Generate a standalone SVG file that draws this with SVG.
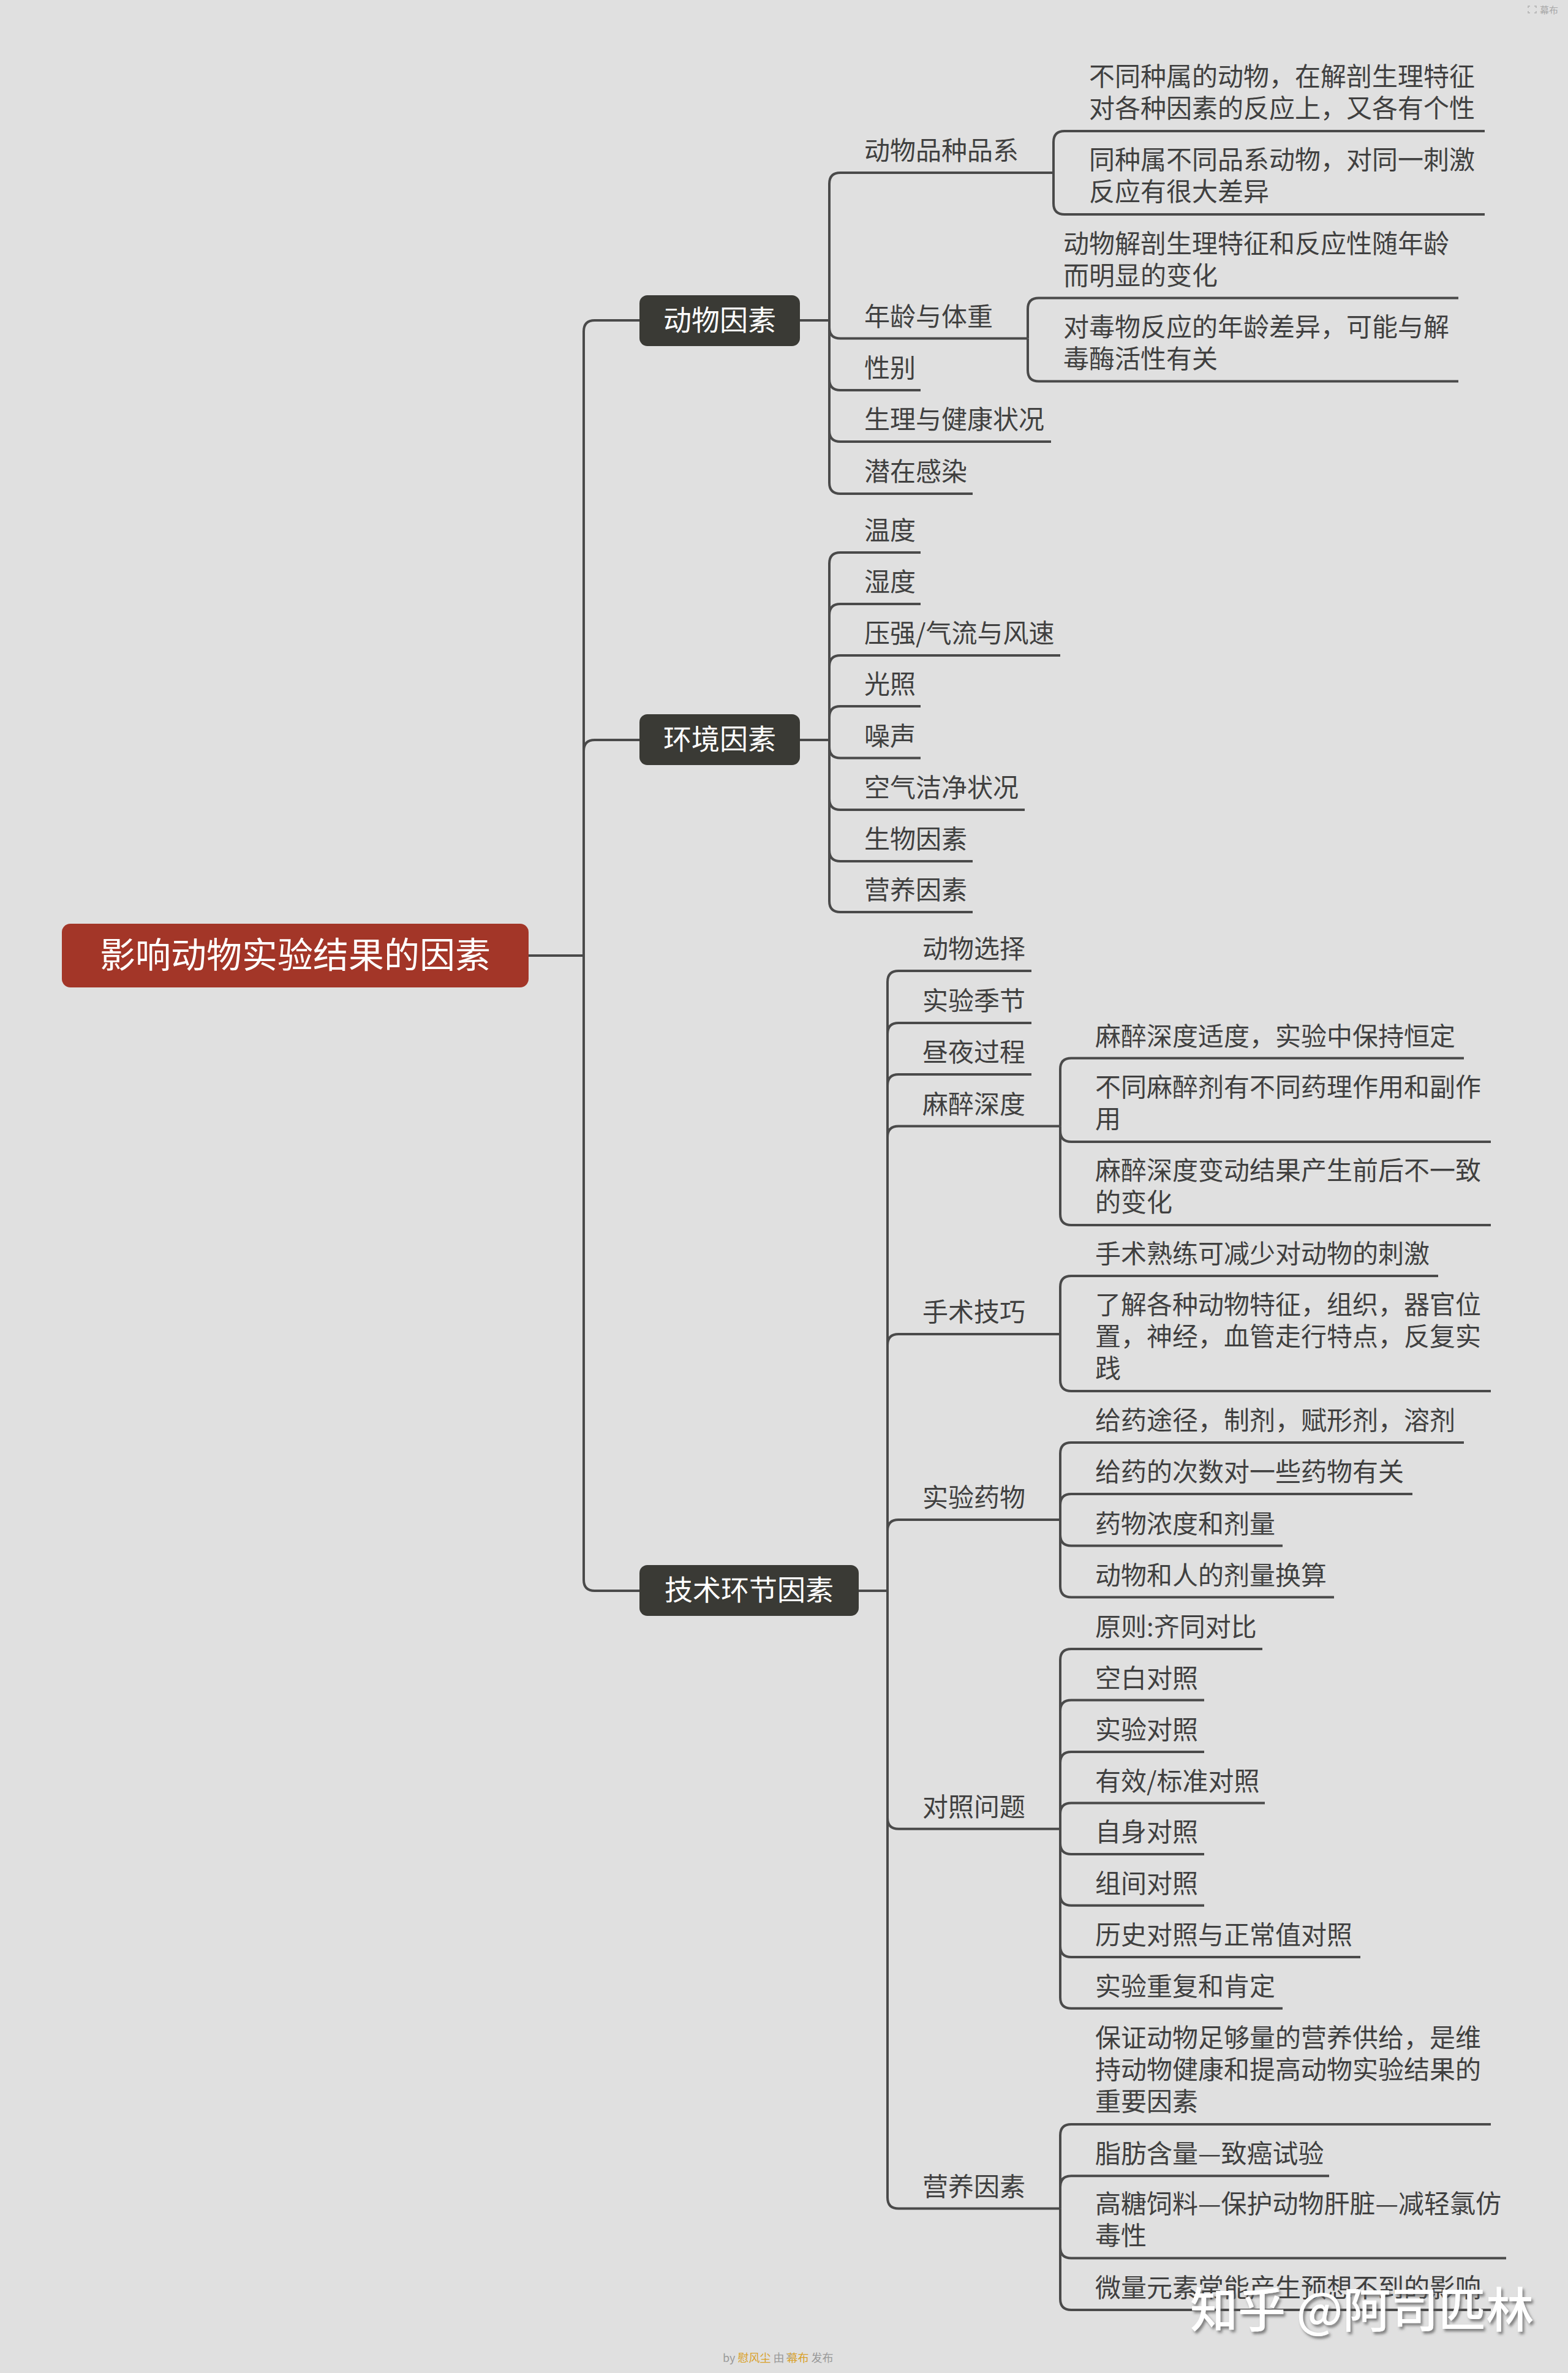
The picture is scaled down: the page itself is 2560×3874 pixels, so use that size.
<svg xmlns="http://www.w3.org/2000/svg" width="2560" height="3874" viewBox="0 0 2560 3874">
<style>
.bg{fill:#e0e0e0}
.c{fill:none;stroke:#4a4a4a;stroke-width:4;stroke-linecap:butt;stroke-linejoin:round}
.t{font-family:"Noto Sans CJK SC","Noto Sans",sans-serif;font-size:42px;fill:#404040}
.m{fill:#3a3a35}
.mt{font-family:"Noto Sans CJK SC","Noto Sans",sans-serif;font-size:46px;fill:#ffffff;text-anchor:middle}
.rt{font-family:"Noto Sans CJK SC","Noto Sans",sans-serif;font-size:58px;fill:#ffffff;text-anchor:middle}
.sm{font-family:"Noto Sans CJK SC","Noto Sans",sans-serif;font-size:18px;fill:#9a9a9a}
.or{fill:#d9a12a}
</style>
<defs>
<filter id="ds" x="-5%" y="-20%" width="110%" height="150%">
<feDropShadow dx="3" dy="4" stdDeviation="2" flood-color="#555" flood-opacity="0.7"/>
</filter>
</defs>
<rect class="bg" x="0" y="0" width="2560" height="3874"/>

<g id="connectors">
<path class="c" d="M862 1560 H953"/>
<path class="c" d="M953 1560 V541 Q953 523 971 523 H1044"/>
<path class="c" d="M953 1560 V1226 Q953 1208 971 1208 H1044"/>
<path class="c" d="M953 1560 V2579 Q953 2597 971 2597 H1044"/>

<path class="c" d="M1306 523 H1354"/>
<path class="c" d="M1354 523 V300 Q1354 282 1372 282 H1720"/>
<path class="c" d="M1354 523 V534.5 Q1354 552.5 1372 552.5 H1678"/>
<path class="c" d="M1354 523 V619 Q1354 637 1372 637 H1503"/>
<path class="c" d="M1354 523 V703 Q1354 721 1372 721 H1716"/>
<path class="c" d="M1354 523 V788 Q1354 806 1372 806 H1588"/>

<path class="c" d="M1720 282 V232 Q1720 214 1738 214 H2424"/>
<path class="c" d="M1720 282 V332 Q1720 350 1738 350 H2424"/>
<path class="c" d="M1678 552.5 V504.5 Q1678 486.5 1696 486.5 H2381"/>
<path class="c" d="M1678 552.5 V604.5 Q1678 622.5 1696 622.5 H2381"/>

<path class="c" d="M1306 1208 H1354"/>
<path class="c" d="M1354 1208 V920 Q1354 902 1372 902 H1503"/>
<path class="c" d="M1354 1208 V1004 Q1354 986 1372 986 H1503"/>
<path class="c" d="M1354 1208 V1088 Q1354 1070 1372 1070 H1731"/>
<path class="c" d="M1354 1208 V1171 Q1354 1153 1372 1153 H1503"/>
<path class="c" d="M1354 1208 V1219.5 Q1354 1237.5 1372 1237.5 H1503"/>
<path class="c" d="M1354 1208 V1304 Q1354 1322 1372 1322 H1673"/>
<path class="c" d="M1354 1208 V1388 Q1354 1406 1372 1406 H1588"/>
<path class="c" d="M1354 1208 V1471 Q1354 1489 1372 1489 H1588"/>

<path class="c" d="M1402 2597 H1449"/>
<path class="c" d="M1449 2597 V1603 Q1449 1585 1467 1585 H1684"/>
<path class="c" d="M1449 2597 V1688 Q1449 1670 1467 1670 H1684"/>
<path class="c" d="M1449 2597 V1772 Q1449 1754 1467 1754 H1684"/>
<path class="c" d="M1449 2597 V1856.5 Q1449 1838.5 1467 1838.5 H1731"/>
<path class="c" d="M1449 2597 V2196 Q1449 2178 1467 2178 H1731"/>
<path class="c" d="M1449 2597 V2499 Q1449 2481 1467 2481 H1731"/>
<path class="c" d="M1449 2597 V2967.7 Q1449 2985.7 1467 2985.7 H1731"/>
<path class="c" d="M1449 2597 V3587.5 Q1449 3605.5 1467 3605.5 H1731"/>

<path class="c" d="M1731 1838.5 V1745.5 Q1731 1727.5 1749 1727.5 H2390"/>
<path class="c" d="M1731 1838.5 V1846 Q1731 1864 1749 1864 H2434"/>
<path class="c" d="M1731 1838.5 V1982 Q1731 2000 1749 2000 H2434"/>

<path class="c" d="M1731 2178 V2101 Q1731 2083 1749 2083 H2348"/>
<path class="c" d="M1731 2178 V2253 Q1731 2271 1749 2271 H2434"/>

<path class="c" d="M1731 2481 V2373 Q1731 2355 1749 2355 H2390"/>
<path class="c" d="M1731 2481 V2457 Q1731 2439 1749 2439 H2306"/>
<path class="c" d="M1731 2481 V2505.5 Q1731 2523.5 1749 2523.5 H2094"/>
<path class="c" d="M1731 2481 V2589.6 Q1731 2607.6 1749 2607.6 H2178"/>

<path class="c" d="M1731 2985.7 V2710 Q1731 2692 1749 2692 H2061"/>
<path class="c" d="M1731 2985.7 V2793.5 Q1731 2775.5 1749 2775.5 H1966"/>
<path class="c" d="M1731 2985.7 V2878 Q1731 2860 1749 2860 H1966"/>
<path class="c" d="M1731 2985.7 V2961.5 Q1731 2943.5 1749 2943.5 H2065"/>
<path class="c" d="M1731 2985.7 V3009 Q1731 3027 1749 3027 H1966"/>
<path class="c" d="M1731 2985.7 V3092.7 Q1731 3110.7 1749 3110.7 H1966"/>
<path class="c" d="M1731 2985.7 V3177 Q1731 3195 1749 3195 H2221"/>
<path class="c" d="M1731 2985.7 V3260.7 Q1731 3278.7 1749 3278.7 H2094"/>

<path class="c" d="M1731 3605.5 V3486 Q1731 3468 1749 3468 H2434"/>
<path class="c" d="M1731 3605.5 V3570.3 Q1731 3552.3 1749 3552.3 H2170"/>
<path class="c" d="M1731 3605.5 V3668.5 Q1731 3686.5 1749 3686.5 H2459"/>
<path class="c" d="M1731 3605.5 V3753 Q1731 3771 1749 3771 H2434"/>
</g>

<g id="root">
<rect x="101" y="1508" width="762" height="104" rx="14" fill="#a33628"/>
<text class="rt" x="482" y="1580">影响动物实验结果的因素</text>
</g>

<g id="n-animal">
<rect class="m" x="1044" y="482" width="262" height="83" rx="13"/>
<text class="mt" x="1175" y="539">动物因素</text>
</g>
<g id="n-env">
<rect class="m" x="1044" y="1166" width="262" height="83" rx="13"/>
<text class="mt" x="1175" y="1223">环境因素</text>
</g>
<g id="n-tech">
<rect class="m" x="1044" y="2555" width="358" height="83" rx="13"/>
<text class="mt" x="1223" y="2612">技术环节因素</text>
</g>

<g id="animal-children">
<g id="a1"><text class="t" x="1411" y="261">动物品种品系</text></g>
<g id="a1-1"><text class="t" x="1778" y="140">不同种属的动物，在解剖生理特征<tspan x="1778" dy="52">对各种因素的反应上，又各有个性</tspan></text></g>
<g id="a1-2"><text class="t" x="1778" y="276">同种属不同品系动物，对同一刺激<tspan x="1778" dy="52">反应有很大差异</tspan></text></g>
<g id="a2"><text class="t" x="1411" y="531.5">年龄与体重</text></g>
<g id="a2-1"><text class="t" x="1736" y="412.5">动物解剖生理特征和反应性随年龄<tspan x="1736" dy="52">而明显的变化</tspan></text></g>
<g id="a2-2"><text class="t" x="1736" y="548.5">对毒物反应的年龄差异，可能与解<tspan x="1736" dy="52">毒酶活性有关</tspan></text></g>
<g id="a3"><text class="t" x="1411" y="616">性别</text></g>
<g id="a4"><text class="t" x="1411" y="700">生理与健康状况</text></g>
<g id="a5"><text class="t" x="1411" y="785">潜在感染</text></g>
</g>

<g id="env-children">
<g id="e1"><text class="t" x="1411" y="881">温度</text></g>
<g id="e2"><text class="t" x="1411" y="965">湿度</text></g>
<g id="e3"><text class="t" x="1411" y="1049">压强/气流与风速</text></g>
<g id="e4"><text class="t" x="1411" y="1132">光照</text></g>
<g id="e5"><text class="t" x="1411" y="1216.5">噪声</text></g>
<g id="e6"><text class="t" x="1411" y="1301">空气洁净状况</text></g>
<g id="e7"><text class="t" x="1411" y="1385">生物因素</text></g>
<g id="e8"><text class="t" x="1411" y="1468">营养因素</text></g>
</g>

<g id="tech-children">
<g id="t1"><text class="t" x="1506" y="1564">动物选择</text></g>
<g id="t2"><text class="t" x="1506" y="1649">实验季节</text></g>
<g id="t3"><text class="t" x="1506" y="1733">昼夜过程</text></g>
<g id="t4"><text class="t" x="1506" y="1817.5">麻醉深度</text></g>
<g id="t4-1"><text class="t" x="1788" y="1706.5">麻醉深度适度，实验中保持恒定</text></g>
<g id="t4-2"><text class="t" x="1788" y="1790">不同麻醉剂有不同药理作用和副作<tspan x="1788" dy="52">用</tspan></text></g>
<g id="t4-3"><text class="t" x="1788" y="1926">麻醉深度变动结果产生前后不一致<tspan x="1788" dy="52">的变化</tspan></text></g>
<g id="t5"><text class="t" x="1506" y="2157">手术技巧</text></g>
<g id="t5-1"><text class="t" x="1788" y="2062">手术熟练可减少对动物的刺激</text></g>
<g id="t5-2"><text class="t" x="1788" y="2145">了解各种动物特征，组织，器官位<tspan x="1788" dy="52">置，神经，血管走行特点，反复实</tspan><tspan x="1788" dy="52">践</tspan></text></g>
<g id="t6"><text class="t" x="1506" y="2460">实验药物</text></g>
<g id="t6-1"><text class="t" x="1788" y="2334">给药途径，制剂，赋形剂，溶剂</text></g>
<g id="t6-2"><text class="t" x="1788" y="2418">给药的次数对一些药物有关</text></g>
<g id="t6-3"><text class="t" x="1788" y="2502.5">药物浓度和剂量</text></g>
<g id="t6-4"><text class="t" x="1788" y="2586.6">动物和人的剂量换算</text></g>
<g id="t7"><text class="t" x="1506" y="2964.7">对照问题</text></g>
<g id="t7-1"><text class="t" x="1788" y="2671">原则:齐同对比</text></g>
<g id="t7-2"><text class="t" x="1788" y="2754.5">空白对照</text></g>
<g id="t7-3"><text class="t" x="1788" y="2839">实验对照</text></g>
<g id="t7-4"><text class="t" x="1788" y="2922.5">有效/标准对照</text></g>
<g id="t7-5"><text class="t" x="1788" y="3006">自身对照</text></g>
<g id="t7-6"><text class="t" x="1788" y="3089.7">组间对照</text></g>
<g id="t7-7"><text class="t" x="1788" y="3174">历史对照与正常值对照</text></g>
<g id="t7-8"><text class="t" x="1788" y="3257.7">实验重复和肯定</text></g>
<g id="t8"><text class="t" x="1506" y="3584.5">营养因素</text></g>
<g id="t8-1"><text class="t" x="1788" y="3342">保证动物足够量的营养供给，是维<tspan x="1788" dy="52">持动物健康和提高动物实验结果的</tspan><tspan x="1788" dy="52">重要因素</tspan></text></g>
<g id="t8-2"><text class="t" x="1788" y="3531.3">脂肪含量—致癌试验</text></g>
<g id="t8-3"><text class="t" x="1788" y="3612.5">高糖饲料—保护动物肝脏—减轻氯仿<tspan x="1788" dy="52">毒性</tspan></text></g>
<g id="t8-4"><text class="t" x="1788" y="3750">微量元素常能产生预想不到的影响</text></g>
</g>

<g id="brand-top">
<path d="M2498 10 h-3 v3 M2505 10 h3 v3 M2498 21 h-3 v-3 M2505 21 h3 v-3" fill="none" stroke="#b0b0b0" stroke-width="1.5"/>
<text class="sm" x="2514" y="22" style="font-size:15px;fill:#a8a8a8">幕布</text>
</g>

<g id="watermark" filter="url(#ds)">
<text x="1943" y="3800" style="font-family:'Noto Sans CJK SC','Noto Sans',sans-serif;font-size:78px;font-weight:500;fill:#ffffff">知乎 @阿司匹林</text>
</g>

<g id="credit">
<text class="sm" x="1180" y="3856">by <tspan class="or">慰风尘</tspan> 由 <tspan dx="20"></tspan><tspan class="or">幕布</tspan> 发布</text>
<path d="M1284 3842 l9 9 M1293 3842 l-9 9" stroke="#b0b0b0" stroke-width="1.5"/>
</g>
</svg>
